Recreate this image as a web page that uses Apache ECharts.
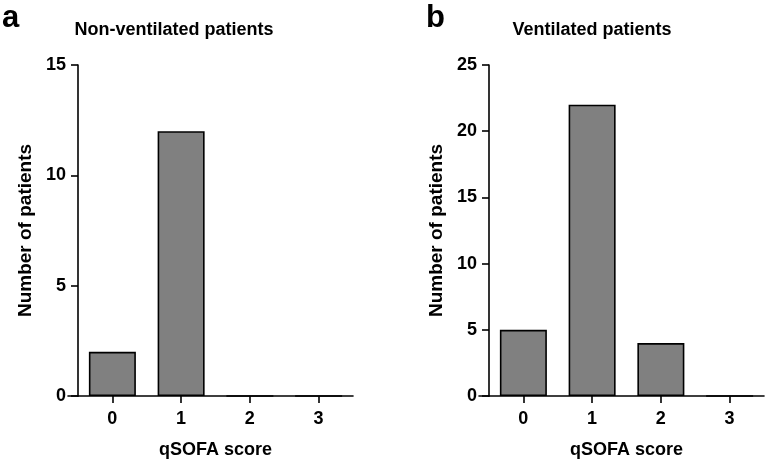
<!DOCTYPE html>
<html><head><meta charset="utf-8">
<script src="https://cdn.jsdelivr.net/npm/echarts@6/dist/echarts.min.js"></script>
<style>html,body{margin:0;padding:0;background:#fff}#c{width:765px;height:462px}</style>
</head><body><div id="c"></div>
<script>
const categories = ['0', '1', '2', '3'];
const nonVentilated = [2, 12, 0, 0];
const ventilated = [5, 22, 4, 0];
const leftTicksMax = 15, rightTicksMax = 25, tickStep = 5;
const panelTitles = ['Non-ventilated patients', 'Ventilated patients'];
const panelLetters = ['a', 'b'];
const xName = 'qSOFA score';
const yName = 'Number of patients';

const FONT = '"Liberation Sans", Arial, sans-serif';
const black = '#000';
const axisLine = { show: true, lineStyle: { color: black, width: 1.6 } };
const axisTick = { show: true, length: 7, lineStyle: { color: black, width: 1.6 } };
const lbl = { color: black, fontFamily: FONT, fontWeight: 'bold', fontSize: 18 };

function xCat(gi) {
  return {
    type: 'category', gridIndex: gi, data: categories,
    axisLine, axisTick: Object.assign({ alignWithLabel: true }, axisTick),
    axisLabel: Object.assign({ margin: 14 }, lbl),
    name: xName, nameLocation: 'middle', nameGap: 45, nameMoveOverlap: false,
    nameTextStyle: Object.assign({}, lbl, { fontSize: 18 }),
    splitLine: { show: false }
  };
}
function yVal(gi, max) {
  return {
    type: 'value', gridIndex: gi, min: 0, max: max, interval: tickStep,
    axisLine, axisTick, axisLabel: Object.assign({ margin: 12 }, lbl),
    name: yName, nameLocation: 'middle', nameGap: 43, nameMoveOverlap: false,
    nameTextStyle: Object.assign({}, lbl, { fontSize: 19 }),
    splitLine: { show: false }
  };
}
function stubX(gi) {
  return { type: 'value', gridIndex: gi, min: 0, max: 1, axisLine,
    axisTick: { show: false }, axisLabel: { show: false }, splitLine: { show: false } };
}
function stubY(gi) {
  return { type: 'value', gridIndex: gi, min: 0, max: 1, show: false };
}
const barStyle = { color: '#808080', borderColor: black, borderWidth: 1.6 };
const gridBase = { outerBoundsMode: 'none', containLabel: false, top: 65, height: 331 };

const option = {
  animation: false,
  backgroundColor: '#fff',
  title: [
    { text: panelLetters[0], left: -3, top: -2, textStyle: { fontFamily: FONT, fontWeight: 'bold', fontSize: 31, color: black } },
    { text: panelLetters[1], left: 421, top: -2, textStyle: { fontFamily: FONT, fontWeight: 'bold', fontSize: 31, color: black } },
    { text: panelTitles[0], left: 169, top: 16, textAlign: 'center', textStyle: { fontFamily: FONT, fontWeight: 'bold', fontSize: 18, color: black } },
    { text: panelTitles[1], left: 587, top: 16, textAlign: 'center', textStyle: { fontFamily: FONT, fontWeight: 'bold', fontSize: 18, color: black } }
  ],
  grid: [
    Object.assign({ left: 78, width: 275 }, gridBase),
    Object.assign({ left: 489, width: 275 }, gridBase),
    Object.assign({ left: 68, width: 10 }, gridBase),
    Object.assign({ left: 479, width: 10 }, gridBase)
  ],
  xAxis: [xCat(0), xCat(1), stubX(2), stubX(3)],
  yAxis: [yVal(0, leftTicksMax), yVal(1, rightTicksMax), stubY(2), stubY(3)],
  series: [
    { type: 'bar', xAxisIndex: 0, yAxisIndex: 0, data: nonVentilated, barWidth: 47, itemStyle: barStyle },
    { type: 'bar', xAxisIndex: 1, yAxisIndex: 1, data: ventilated, barWidth: 47, itemStyle: barStyle }
  ]
};
const chart = echarts.init(document.getElementById('c'), null, { renderer: 'canvas' });
chart.setOption(option);
</script></body></html>
